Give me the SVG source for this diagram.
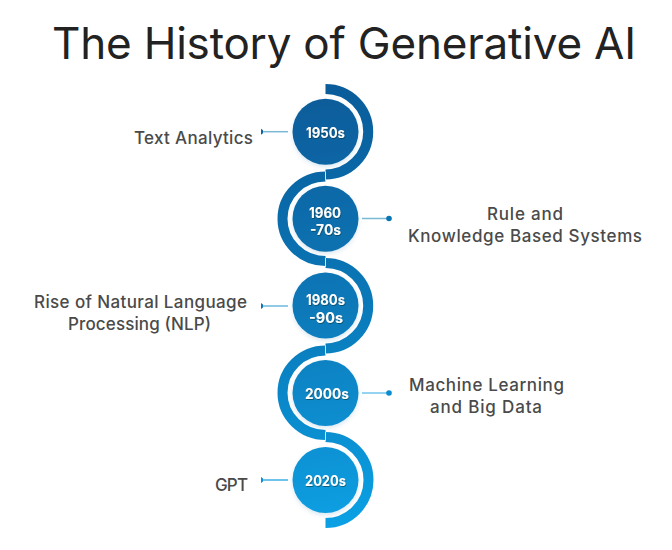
<svg xmlns="http://www.w3.org/2000/svg" width="672" height="550" viewBox="0 0 672 550">
<style>
.t{font-family:"Inter","Noto Sans",sans-serif;font-size:44px;font-weight:400;fill:#222}
.l{font-family:"Inter","Noto Sans",sans-serif;font-size:17px;font-weight:500;fill:#4a4a4a}
.y{font-family:"Inter","Noto Sans",sans-serif;font-size:14.5px;font-weight:700;fill:#fff;filter:url(#ts)}
.b{fill:none;stroke-width:10;stroke:url(#g)}
.c{fill:url(#g);filter:url(#cs)}
.k{stroke-width:1.5;fill:none}
.s{stroke:#cfe3f1;stroke-width:1;fill:none}
</style>
<defs>
<linearGradient id="g" gradientUnits="userSpaceOnUse" x1="290" y1="100" x2="360" y2="520"><stop offset="0" stop-color="#0a5c9a"/><stop offset=".5" stop-color="#0a79b9"/><stop offset="1" stop-color="#0aa0e3"/></linearGradient>
<filter id="ts" x="-20%" y="-20%" width="140%" height="150%"><feDropShadow dx="0.6" dy="1" stdDeviation="0.5" flood-color="#033" flood-opacity=".55"/></filter>
<filter id="cs" x="-20%" y="-20%" width="140%" height="140%"><feDropShadow dx="0" dy="2" stdDeviation="2" flood-color="#0a5c9a" flood-opacity=".15"/></filter>
</defs>
<rect width="672" height="550" fill="#fff"/>
<text class="t" x="52" y="59" textLength="584" lengthAdjust="spacing">The History of Generative AI</text>
<g id="connectors">
<path class="b" d="M325.5 89A42.7 42.7 0 0 1 325.5 174.4"/>
<path class="b" d="M325.5 176.5A43 42.25 0 0 0 325.5 261"/>
<path class="b" d="M325.5 263A42.7 42.7 0 0 1 325.5 348.4"/>
<path class="b" d="M325.5 350.5A43 42.25 0 0 0 325.5 435"/>
<path class="b" d="M325.5 437A43 43 0 0 1 325.5 523"/>
<path class="s" d="M325.5 171.5v9M325.5 258v9M325.5 345.5v9M325.5 432v9"/>
<g class="k">
<path stroke="#7ab8d6" d="M261 131.7H288"/><path stroke="#7ab8d6" d="M362 218.5H388"/><path stroke="#6db8dd" d="M261 306H288"/><path stroke="#70c4ee" d="M362 393H388"/><path stroke="#3fb0e6" d="M261 480H288"/>
</g>
<circle cx="389" cy="218.5" r="2.8" fill="#0a75b5"/><circle cx="389" cy="393" r="2.8" fill="#0a8ccf"/>
<path d="M261 128.7v6l2-1.5v-3z" fill="#0a66a5"/><path d="M261 303v6l2-1.5v-3z" fill="#0a75b5"/><path d="M261 477v6l2-1.5v-3z" fill="#0a90d5"/>
</g>
<g id="n1950"><circle class="c" cx="325.5" cy="131.7" r="33"/><text class="y" x="306" y="138" textLength="39" lengthAdjust="spacingAndGlyphs">1950s</text></g>
<g id="n1960"><circle class="c" cx="325.5" cy="218.7" r="33"/><text class="y" x="309" y="217.7" textLength="32" lengthAdjust="spacingAndGlyphs">1960</text><text class="y" x="310" y="235" textLength="31" lengthAdjust="spacingAndGlyphs">-70s</text></g>
<g id="n1980"><circle class="c" cx="325.5" cy="305.5" r="33"/><text class="y" x="306" y="304.5" textLength="39" lengthAdjust="spacingAndGlyphs">1980s</text><text class="y" x="309" y="322.7" textLength="34" lengthAdjust="spacingAndGlyphs">-90s</text></g>
<g id="n2000"><circle class="c" cx="325.5" cy="393" r="33"/><text class="y" x="305" y="398.7" textLength="44" lengthAdjust="spacingAndGlyphs">2000s</text></g>
<g id="n2020"><circle class="c" cx="325.5" cy="480" r="33"/><text class="y" x="305" y="485.7" textLength="41" lengthAdjust="spacingAndGlyphs">2020s</text></g>
<g id="l1"><text class="l" x="134" y="143.5" textLength="119" lengthAdjust="spacing">Text Analytics</text></g>
<g id="l2"><text class="l" x="487" y="219.5" textLength="76" lengthAdjust="spacing">Rule and</text><text class="l" x="408" y="241.8" textLength="234" lengthAdjust="spacing">Knowledge Based Systems</text></g>
<g id="l3"><text class="l" x="34" y="308" textLength="213" lengthAdjust="spacing">Rise of Natural Language</text><text class="l" x="68" y="330" textLength="143" lengthAdjust="spacing">Processing (NLP)</text></g>
<g id="l4"><text class="l" x="409" y="391" textLength="155" lengthAdjust="spacing">Machine Learning</text><text class="l" x="430" y="413" textLength="112" lengthAdjust="spacing">and Big Data</text></g>
<g id="l5"><text class="l" x="215" y="491" textLength="33" lengthAdjust="spacing">GPT</text></g>
</svg>
